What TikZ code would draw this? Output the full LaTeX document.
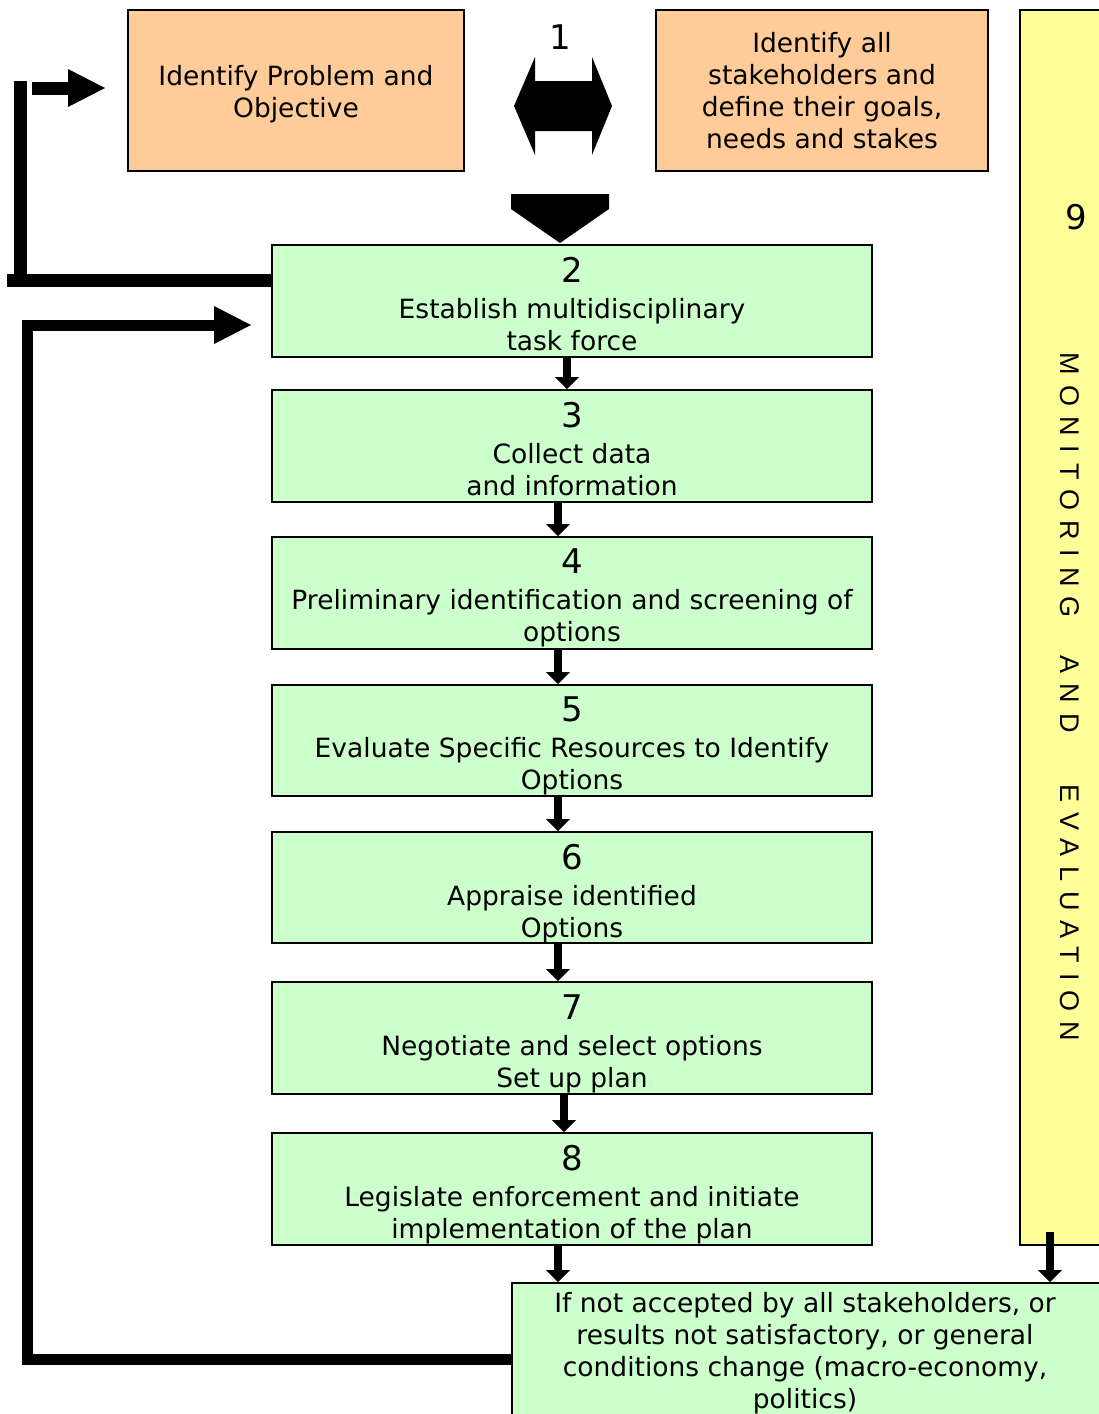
\documentclass[tikz,border=0pt]{standalone}
\usepackage{fontspec}
\setmainfont{DejaVu Sans}
\newfontfamily\vertfont[LetterSpace=37]{Liberation Sans}
\usetikzlibrary{arrows.meta,positioning}

\definecolor{stepgreen}{HTML}{CCFFCC}
\definecolor{toporange}{HTML}{FFCC99}
\definecolor{monyellow}{HTML}{FFFF99}

\newcommand{\stepnum}[1]{{\fontsize{34}{36}\selectfont #1}\\[4pt]}

\tikzset{
  stepbox/.style={draw,line width=2pt,fill=stepgreen,minimum width=600pt,minimum height=112pt,inner sep=0pt},
  steptxt/.style={anchor=north,align=center,inner sep=0pt,font=\fontsize{26.5}{32}\selectfont},
  topbox/.style={draw,line width=2pt,fill=toporange,minimum height=161pt,inner sep=0pt,align=center,font=\fontsize{26.5}{32}\selectfont},
  bignum/.style={inner sep=0pt,font=\fontsize{34}{36}\selectfont},
  steparrow/.style={line width=8pt,-{Triangle[width=24pt,length=12pt,line width=0pt]}},
  looparrow/.style={line width=12pt,-{Triangle[width=38pt,length=37pt,line width=0pt]}},
}

\begin{document}
\begin{tikzpicture}[x=1pt,y=-1pt]
\useasboundingbox (0,0) rectangle (1098,1414);

% step 1
\node[topbox,minimum width=336pt] (pb) at (296,90.5) {\rule{0pt}{28.5pt}Identify Problem and\\Objective};
\node[topbox,minimum width=332pt] (sh) at (822,90.5) {Identify all\\stakeholders and\\define their goals,\\needs and stakes};
\node[bignum] (n1) at (560,37) {1};
\fill (514,106) -- (535,57) -- (535,81) -- (592,81) -- (592,57) -- (612,106)
  -- (592,155) -- (592,131) -- (535,131) -- (535,155) -- cycle; % double arrow
\fill (511,194) -- (609,194) -- (609,209) -- (560,243) -- (511,209) -- cycle; % down arrow

% monitoring column
\node[draw,line width=2pt,fill=monyellow,minimum width=90pt,minimum height=1235pt] (mon) at (1065,627.5) {};
\node[bignum] (n9) at (1076,217) {9};
\node[rotate=-90,inner sep=0pt,font=\vertfont\fontsize{27}{30}\selectfont] (montxt) at (1070,697)
  {MONITORING\hspace{21pt} AND\hspace{34pt} EVALUATION};

% steps 2 - 8
\node[stepbox] (b2) at (572,301) {};
\node[steptxt] (t2) at ([yshift=-13]b2.north) {\stepnum{2}Establish multidisciplinary\\task force};
\node[stepbox] (b3) at (572,446) {};
\node[steptxt] (t3) at ([yshift=-13]b3.north) {\stepnum{3}Collect data\\and information};
\node[stepbox] (b4) at (572,593) {};
\node[steptxt] (t4) at ([yshift=-13]b4.north) {\stepnum{4}Preliminary identification and screening of\\options};
\node[stepbox,minimum height=111pt] (b5) at (572,740.5) {};
\node[steptxt] (t5) at ([yshift=-13]b5.north) {\stepnum{5}Evaluate Specific Resources to Identify\\Options};
\node[stepbox,minimum height=111pt] (b6) at (572,887.5) {};
\node[steptxt] (t6) at ([yshift=-13]b6.north) {\stepnum{6}Appraise identified\\Options};
\node[stepbox] (b7) at (572,1038) {};
\node[steptxt] (t7) at ([yshift=-13]b7.north) {\stepnum{7}Negotiate and select options\\Set up plan};
\node[stepbox] (b8) at (572,1189) {};
\node[steptxt] (t8) at ([yshift=-13]b8.north) {\stepnum{8}Legislate enforcement and initiate\\implementation of the plan};

% feedback box
\node[stepbox,minimum width=598pt,minimum height=137pt] (bb) at (811,1351.5) {};
\node[steptxt] (tbb) at (805,1292) {If not accepted by all stakeholders, or\\results not satisfactory, or general\\conditions change (macro-economy,\\politics)};

% arrows between steps
\draw[steparrow] ([xshift=-5]b2.south) -- ([xshift=-5]b3.north);
\draw[steparrow] ([xshift=-14]b3.south) -- ([xshift=-14]b4.north);
\draw[steparrow] ([xshift=-14]b4.south) -- ([xshift=-14]b5.north);
\draw[steparrow] ([xshift=-14]b5.south) -- ([xshift=-14]b6.north);
\draw[steparrow] ([xshift=-14]b6.south) -- ([xshift=-14]b7.north);
\draw[steparrow] ([xshift=-8]b7.south) -- ([xshift=-8]b8.north);
\draw[steparrow] ([xshift=-14]b8.south) -- ([xshift=-14]b8.south |- bb.north);
\coordinate (m9) at (1050,1232);
\draw[steparrow] (m9) -- (m9 |- bb.north);

% loops back
\coordinate (c1) at (20.5,81);
\coordinate (c2) at (32,88);
\coordinate (c3) at (27,325);
\draw[line width=13pt] ([yshift=21]b2.west) -| (c1);
\draw[line width=13pt] ([yshift=21]b2.west) -- ++(-264,0); % bar end
\draw[looparrow,line width=13pt,shorten >=22pt] (c2) -- (c2 -| pb.west);
\draw[looparrow,line width=11pt,shorten >=20pt] ([yshift=-8]bb.west) -| (c3) -- (c3 -| b2.west);
\end{tikzpicture}
\end{document}
